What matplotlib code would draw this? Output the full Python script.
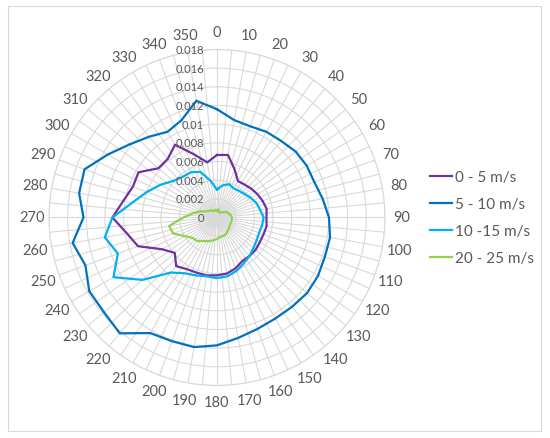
import numpy as np
import matplotlib
matplotlib.use('Agg')
import matplotlib.pyplot as plt
import matplotlib.transforms as mtransforms
from matplotlib.patches import Rectangle

plt.rcParams['font.family'] = ['Lato', 'DejaVu Sans']

# wind direction (deg) and frequency per speed class
directions = list(range(0, 360, 10))

speed_0_5 = [0.0067, 0.0068, 0.0055, 0.0045, 0.0046, 0.0048, 0.0050, 0.0052, 0.0054, 0.0053,
             0.0054, 0.0053, 0.0053, 0.0054, 0.0054, 0.0054, 0.0058, 0.0061, 0.0062, 0.0063,
             0.0063, 0.0064, 0.0068, 0.0059, 0.0068, 0.0090, 0.0098, 0.0112, 0.0102, 0.0096,
             0.0097, 0.0082, 0.0082, 0.0090, 0.0072, 0.0060]

speed_5_10 = [0.0116, 0.0106, 0.0104, 0.0106, 0.0107, 0.0110, 0.0111, 0.0111, 0.0115, 0.0120,
              0.0123, 0.0123, 0.0125, 0.0126, 0.0125, 0.0125, 0.0127, 0.0131, 0.0137, 0.0141,
              0.0141, 0.0143, 0.0162, 0.0158, 0.0158, 0.0150, 0.0157, 0.0143, 0.0150, 0.0151,
              0.0135, 0.0122, 0.0113, 0.0106, 0.0111, 0.0127]

speed_10_15 = [0.0030, 0.0035, 0.0038, 0.0036, 0.0037, 0.0039, 0.0042, 0.0045, 0.0047, 0.0050,
               0.0049, 0.0048, 0.0049, 0.0051, 0.0054, 0.0057, 0.0061, 0.0064, 0.0065, 0.0064,
               0.0066, 0.0069, 0.0077, 0.0104, 0.0128, 0.0113, 0.0122, 0.0112, 0.0092, 0.0080,
               0.0070, 0.0061, 0.0057, 0.0056, 0.0052, 0.0040]

speed_20_25 = [0.0007, 0.0009, 0.0006, 0.0006, 0.0007, 0.0009, 0.0012, 0.0013, 0.0015, 0.0016,
               0.0016, 0.0016, 0.0016, 0.0017, 0.0018, 0.0020, 0.0021, 0.0021, 0.0023, 0.0025,
               0.0027, 0.0029, 0.0033, 0.0034, 0.0040, 0.0050, 0.0052, 0.0036, 0.0026, 0.0019,
               0.0013, 0.0011, 0.0010, 0.0008, 0.0008, 0.0008]

series = [speed_0_5, speed_5_10, speed_10_15, speed_20_25]
series_labels = ['0 - 5 m/s', '5 - 10 m/s', '10 -15 m/s', '20 - 25 m/s']
series_colors = ['#7030A0', '#0070C0', '#00B0F0', '#92D050']

r_ticks = [0, 0.002, 0.004, 0.006, 0.008, 0.01, 0.012, 0.014, 0.016, 0.018]
r_tick_labels = ['0', '0.002', '0.004', '0.006', '0.008', '0.01', '0.012', '0.014', '0.016', '0.018']

text_col = '#595959'
grid_col = '#d9d9d9'

fig = plt.figure(figsize=(5.5, 4.39), dpi=100)
ax = fig.add_axes([0.089, 0.1196, 0.611, 0.7654], projection='polar')
ax.set_theta_zero_location('N')
ax.set_theta_direction(-1)
ax.set_ylim(0, r_ticks[-1])

# spokes every 5 deg, rings every 0.002
ax.set_thetagrids(np.arange(0, 360, 5), labels=[''] * 72)
ax.set_rgrids(r_ticks[1:], labels=[''] * (len(r_ticks) - 1))
ax.grid(color=grid_col, linewidth=0.8)
ax.spines['polar'].set_color(grid_col)
ax.spines['polar'].set_linewidth(0.8)
ax.tick_params(length=0)

theta = np.deg2rad(directions + [directions[0]])
handles = []
for vals, lab, col in zip(series, series_labels, series_colors):
    h, = ax.plot(theta, vals + [vals[0]], color=col, linewidth=1.6, label=lab)
    handles.append(h)

# direction labels
r_lab = r_ticks[-1] * 185 / 168
for d in directions:
    ax.text(np.deg2rad(d), r_lab, str(d), ha='center', va='center',
            fontsize=10.5, color=text_col, clip_on=False)

# radial tick labels along the 0 deg axis
trans = mtransforms.offset_copy(ax.transData, fig=fig, x=-13, y=0, units='dots')
for r, lab in zip(r_ticks, r_tick_labels):
    ax.text(0, r, lab, transform=trans, ha='right', va='center',
            fontsize=8, color=text_col)

fig.legend(handles, series_labels, loc='center left', bbox_to_anchor=(0.781, 0.502),
           frameon=False, fontsize=11, handlelength=1.5, handletextpad=0.15,
           labelspacing=0.85, borderpad=0, borderaxespad=0, labelcolor=text_col)

fig.add_artist(Rectangle((8 / 550, 7 / 439), 533 / 550, 425 / 439, transform=fig.transFigure,
                         fill=False, edgecolor=grid_col, linewidth=0.8))

fig.savefig('out.png', dpi=100)
